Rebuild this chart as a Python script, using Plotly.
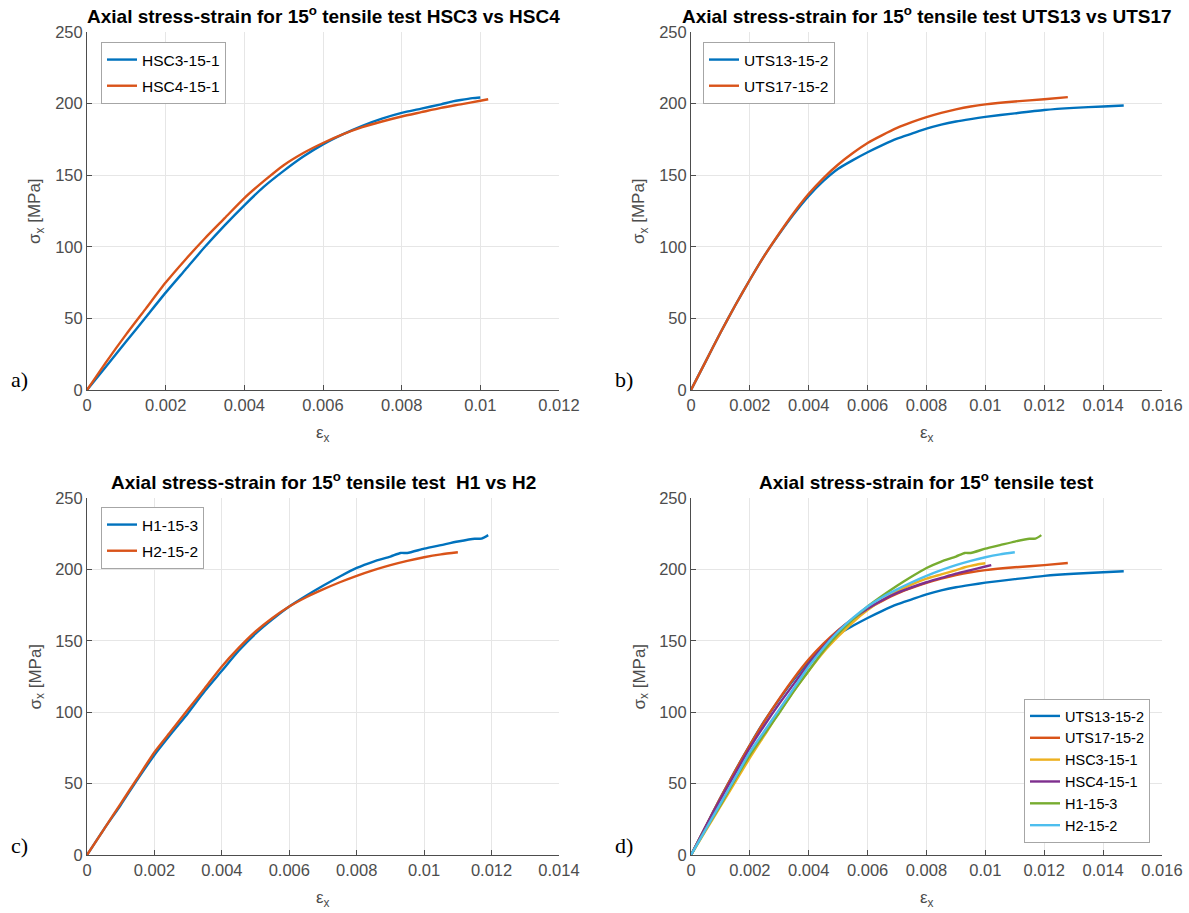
import plotly.graph_objects as go

# ---------------- data ----------------
hsc3_x = [0, 0.0005, 0.001, 0.0015, 0.002, 0.0025, 0.003, 0.0035, 0.004, 0.0045, 0.005, 0.0055,
          0.006, 0.0065, 0.007, 0.0075, 0.008, 0.0085, 0.009, 0.0093, 0.0095, 0.0098, 0.0100]
hsc3_y = [0, 17, 34, 51, 68, 84, 100, 115, 129, 142, 153, 163,
          171.5, 178.5, 184.5, 189.5, 193.5, 196.5, 199.5, 201.5, 202.5, 203.8, 204.3]

hsc4_x = [0, 0.0005, 0.001, 0.0015, 0.002, 0.0025, 0.003, 0.0035, 0.004, 0.0045, 0.005, 0.0055,
          0.006, 0.0065, 0.007, 0.0075, 0.008, 0.0085, 0.009, 0.0095, 0.0100, 0.0102]
hsc4_y = [0, 20, 39, 57, 75, 91, 106, 120, 134, 146, 157, 165.5,
          172.5, 178.5, 183.5, 187.5, 191, 194, 197, 199.5, 202, 203]

uts13_x = [0, 0.0005, 0.001, 0.0015, 0.002, 0.0025, 0.003, 0.0035, 0.004, 0.0045, 0.005, 0.0055,
           0.006, 0.0065, 0.007, 0.0075, 0.008, 0.0085, 0.009, 0.0095, 0.010, 0.011, 0.012, 0.013,
           0.014, 0.0147]
uts13_y = [0, 20, 40, 59, 77, 94, 109, 123, 135.5, 146, 154.5, 160.5,
           166, 171, 175.5, 179, 182.5, 185.3, 187.5, 189.2, 190.7, 193.2, 195.5, 197,
           198, 198.7]

uts17_x = [0, 0.0005, 0.001, 0.0015, 0.002, 0.0025, 0.003, 0.0035, 0.004, 0.0045, 0.005, 0.0055,
           0.006, 0.0065, 0.007, 0.0075, 0.008, 0.0085, 0.009, 0.0095, 0.010, 0.011, 0.012, 0.0128]
uts17_y = [0, 20, 40, 59, 77, 94, 109.5, 124, 137, 148, 157.5, 165.5,
           172.5, 178, 183, 187, 190.5, 193.5, 196, 198, 199.5, 201.5, 203, 204.5]

h1_x = [0, 0.0005, 0.001, 0.0015, 0.002, 0.0025, 0.003, 0.0035, 0.004, 0.0045, 0.005, 0.0055,
        0.006, 0.0065, 0.007, 0.0075, 0.008, 0.0085, 0.009, 0.0093, 0.0095, 0.010, 0.0105,
        0.011, 0.0115, 0.0117, 0.0119]
h1_y = [0, 18, 35, 53, 70, 85, 99.5, 115, 129, 143, 155, 165,
        174, 181.5, 188.5, 195, 201, 205.5, 209, 211.5, 211.5, 214.5, 217,
        219.5, 221.5, 221.5, 224]

h2_x = [0, 0.0005, 0.001, 0.0015, 0.002, 0.0025, 0.003, 0.0035, 0.004, 0.0045, 0.005, 0.0055,
        0.006, 0.0065, 0.007, 0.0075, 0.008, 0.0085, 0.009, 0.0095, 0.010, 0.0105, 0.011]
h2_y = [0, 18, 36, 54, 72, 87, 102, 117, 132, 145, 156.5, 166,
        174, 180.5, 186, 191, 195.5, 199.5, 203, 206, 208.5, 210.5, 212]

names = ["UTS13-15-2", "UTS17-15-2", "HSC3-15-1", "HSC4-15-1", "H1-15-3", "H2-15-2"]
colors = ["#0072BD", "#D95319", "#EDB120", "#7E2F8E", "#77AC30", "#4DBEEE"]

titles = [
    "Axial stress-strain for 15<sup>o</sup> tensile test HSC3 vs HSC4",
    "Axial stress-strain for 15<sup>o</sup> tensile test UTS13 vs UTS17",
    "Axial stress-strain for 15<sup>o</sup> tensile test  H1 vs H2",
    "Axial stress-strain for 15<sup>o</sup> tensile test",
]
panel_labels = ["a)", "b)", "c)", "d)"]
x_max = [0.012, 0.016, 0.014, 0.016]
y_ticks = [0, 50, 100, 150, 200, 250]

series = {
    "UTS13-15-2": (uts13_x, uts13_y),
    "UTS17-15-2": (uts17_x, uts17_y),
    "HSC3-15-1": (hsc3_x, hsc3_y),
    "HSC4-15-1": (hsc4_x, hsc4_y),
    "H1-15-3": (h1_x, h1_y),
    "H2-15-2": (h2_x, h2_y),
}

panels = [
    [("HSC3-15-1", colors[0]), ("HSC4-15-1", colors[1])],
    [("UTS13-15-2", colors[0]), ("UTS17-15-2", colors[1])],
    [("H1-15-3", colors[0]), ("H2-15-2", colors[1])],
    [(n, c) for n, c in zip(names, colors)],
]

# ---------------- layout geometry ----------------
W, H = 1189, 913
px_x = [(87, 559), (691, 1162), (87, 559), (691, 1162)]
px_y = [(32, 390), (32, 390), (498, 855), (498, 855)]

fig = go.Figure()

legend_names = ["legend", "legend2", "legend3", "legend4"]
for i, plist in enumerate(panels):
    xa = "x" if i == 0 else f"x{i+1}"
    ya = "y" if i == 0 else f"y{i+1}"
    for j, (name, col) in enumerate(plist):
        xs, ys = series[name]
        fig.add_trace(go.Scatter(
            x=xs, y=ys, mode="lines", name=name,
            line=dict(color=col, width=2.4, shape="spline", smoothing=0.6),
            xaxis=xa, yaxis=ya, legend=legend_names[i],
            legendgroup=f"p{i}_{j}" if i < 3 else None,
        ))

axis_common = dict(
    showgrid=True, gridcolor="#e6e6e6", gridwidth=1,
    showline=True, linecolor="#4d4d4d", linewidth=1,
    ticks="inside", ticklen=5, tickcolor="#4d4d4d",
    tickfont=dict(family="Liberation Sans, Arial", size=16.5, color="#4d4d4d"),
    zeroline=False, mirror=False, automargin=False,
)

layout = dict(
    width=W, height=H, margin=dict(l=0, r=0, t=0, b=0, autoexpand=False),
    paper_bgcolor="white", plot_bgcolor="white",
    showlegend=True,
)

annotations = []
for i in range(4):
    xk = "xaxis" if i == 0 else f"xaxis{i+1}"
    yk = "yaxis" if i == 0 else f"yaxis{i+1}"
    xd = [px_x[i][0] / W, px_x[i][1] / W]
    yd = [1 - px_y[i][1] / H, 1 - px_y[i][0] / H]
    xt = [round(0.002 * k, 3) for k in range(int(round(x_max[i] / 0.002)) + 1)]
    xtt = ["0" if v == 0 else ("%g" % v) for v in xt]
    layout[xk] = dict(axis_common, domain=xd, range=[0, x_max[i]],
                      tickvals=xt, ticktext=xtt,
                      anchor="y" if i == 0 else f"y{i+1}")
    layout[yk] = dict(axis_common, domain=yd, range=[0, 250],
                      tickvals=y_ticks, ticktext=[str(v) for v in y_ticks],
                      anchor="x" if i == 0 else f"x{i+1}")
    cx = (px_x[i][0] + px_x[i][1]) / 2 / W
    annotations.append(dict(
        text=titles[i], xref="paper", yref="paper", x=cx, y=1 - (px_y[i][0] - 3) / H,
        xanchor="center", yanchor="bottom", showarrow=False,
        font=dict(family="Liberation Sans, Arial", size=19, color="black", weight="bold"),
    ))
    annotations.append(dict(
        text="ε<sub>x</sub>", xref="paper", yref="paper", x=cx, y=1 - (px_y[i][1] + 44) / H,
        xanchor="center", yanchor="middle", showarrow=False,
        font=dict(family="Liberation Sans, Arial", size=17, color="#4d4d4d"),
    ))
    annotations.append(dict(
        text="σ<sub>x</sub> [MPa]", xref="paper", yref="paper",
        x=(px_x[i][0] - 51) / W, y=1 - (px_y[i][0] + px_y[i][1]) / 2 / H,
        xanchor="center", yanchor="middle", showarrow=False, textangle=-90,
        font=dict(family="Liberation Sans, Arial", size=17, color="#4d4d4d"),
    ))
    annotations.append(dict(
        text=panel_labels[i], xref="paper", yref="paper",
        x=(px_x[i][0] - 78) / W, y=1 - (px_y[i][1] - 10) / H,
        xanchor="left", yanchor="middle", showarrow=False,
        font=dict(family="Liberation Serif, Times New Roman", size=22, color="black"),
    ))

layout["annotations"] = annotations

leg_style = dict(
    bgcolor="white", bordercolor="#a6a6a6", borderwidth=1,
    font=dict(family="Liberation Sans, Arial", size=15.5, color="black"),
    tracegroupgap=3, itemwidth=30,
)
layout["legend"] = dict(leg_style, x=101 / W, y=1 - 42 / H, xanchor="left", yanchor="top")
layout["legend2"] = dict(leg_style, x=703 / W, y=1 - 42 / H, xanchor="left", yanchor="top")
layout["legend3"] = dict(leg_style, x=101 / W, y=1 - 507 / H, xanchor="left", yanchor="top")
layout["legend4"] = dict(leg_style, x=1150 / W, y=1 - 843 / H, xanchor="right", yanchor="bottom",
                         font=dict(family="Liberation Sans, Arial", size=14.5, color="black"),
                         tracegroupgap=0)

fig.update_layout(**layout)
fig.write_html(
    "out.html",
    config={"displayModeBar": False},
    post_script="document.body.style.margin='0';document.body.style.padding='0';",
)
